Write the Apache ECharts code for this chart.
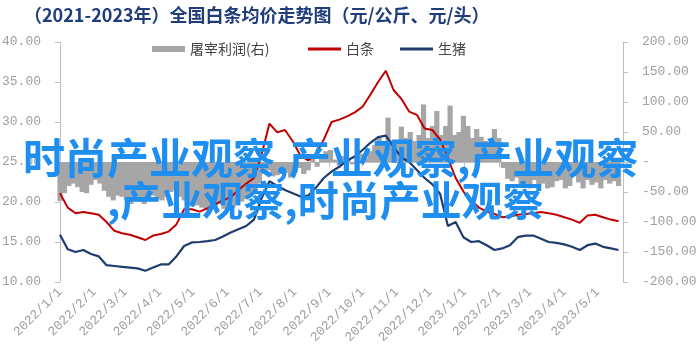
<!DOCTYPE html>
<html>
<head>
<meta charset="utf-8">
<script src="https://cdn.jsdelivr.net/npm/echarts@6/dist/echarts.min.js"></script>
<style>html,body{margin:0;padding:0;background:#fff}#c{width:700px;height:351px}</style>
</head>
<body>
<div id="c"></div>
<script>
// ---- data ----
var titleText = '（2021-2023年）全国白条均价走势图（元/公斤、元/头）';
var seriesNames = ['屠宰利润(右)', '白条', '生猪'];
var xTickLabels = ['2022/1/1','2022/2/1','2022/3/1','2022/4/1','2022/5/1','2022/6/1','2022/7/1','2022/8/1','2022/9/1','2022/10/1','2022/11/1','2022/12/1','2023/1/1','2023/2/1','2023/3/1','2023/4/1','2023/5/1'];
var leftTickLabels = ['10.00','15.00','20.00','25.00','30.00','35.00','40.00'];
var rightTickLabels = ['-200.00','-150.00','-100.00','-50.00','-','50.00','100.00','150.00','200.00'];
var overlayLines = ['时尚产业观察,产业观察,产业观察', ',产业观察,时尚产业观察'];

// line series: weekly observations starting 2022/1/1
var lineStart = '2022/1/1';
var lineStepDays = 7;
var baitiao = [21.1,19.3,18.6,18.75,18.6,18.4,17.5,16.4,16.1,15.9,15.6,15.25,15.8,16.0,16.3,17.2,19.1,19.1,18.8,19.2,19.7,20.2,20.6,21.5,22.3,23.0,26.0,29.8,28.7,29.0,27.6,25.8,25.2,26.0,27.8,30.0,30.3,30.7,31.2,31.9,33.4,35.0,36.4,34.0,32.9,31.3,30.9,29.2,29.0,27.8,25.5,23.0,21.3,20.2,19.3,18.8,18.5,18.1,18.2,18.4,18.5,18.6,18.75,18.6,18.4,18.1,17.8,17.4,18.3,18.4,18.1,17.8,17.6];
var shengzhu = [15.9,14.1,13.75,14.0,13.5,13.2,12.1,12.0,11.9,11.8,11.7,11.4,11.8,12.2,12.2,13.2,14.5,14.95,15.0,15.1,15.25,15.7,16.2,16.6,17.0,17.8,20.5,22.6,22.0,21.5,21.1,20.7,20.8,21.8,23.0,23.8,24.4,25.2,25.7,26.5,27.4,28.1,28.3,26.9,25.6,25.0,24.0,23.0,22.2,21.0,17.0,17.5,15.6,15.0,15.1,14.6,14.0,14.2,14.6,15.6,15.8,15.8,15.4,15.0,14.9,14.7,14.4,14.0,14.6,14.8,14.4,14.2,14.0];

// bar series: observations every 4 days starting 2022/1/1
var barStart = '2022/1/1';
var barStepDays = 4;
var profit = [-65,-52,-40,-36,-42,-50,-52,-38,-30,-36,-48,-58,-64,-56,-58,-64,-70,-60,-66,-70,-62,-56,-62,-64,-58,-50,-46,-58,-64,-70,-74,-72,-76,-80,-78,-74,-70,-78,-80,-76,-72,-66,-62,-58,-48,-36,-20,-14,-24,-22,-16,-18,-26,-18,-10,-20,-14,6,-8,12,18,20,4,-6,10,6,-4,8,14,6,18,28,40,30,74,35,30,59,40,50,35,45,96,40,60,85,45,60,94,45,50,77,60,40,55,42,35,30,55,40,-10,-28,-32,-26,-40,-36,-44,-30,-40,-36,-44,-42,-32,-30,-44,-40,-22,-34,-44,-30,-38,-34,-44,-30,-36,-32,-40];

// ---- helpers ----
var DAY = 86400000;
function parseDate(s){ var p = s.split('/'); return Date.UTC(+p[0], +p[1]-1, +p[2]); }
var t0 = parseDate('2022/1/1');
function dayIndex(s){ return Math.round((parseDate(s) - t0) / DAY); }
function pairs(start, step, vals){
  var d0 = dayIndex(start), out = [];
  for (var i = 0; i < vals.length; i++) out.push([d0 + i*step, vals[i]]);
  return out;
}
var xTicks = xTickLabels.map(dayIndex);
var xMin = 0, xMax = dayIndex('2023/5/24');

var labelFont = 'Liberation Mono';
var axisGray = '#bfbfbf';
var textGray = '#a0a0a0';

var chart = echarts.init(document.getElementById('c'), null, {renderer:'canvas'});
chart.setOption({
  animation: false,
  backgroundColor: '#fff',
  title: {
    text: titleText, left: 19, top: 1,
    textStyle: {fontSize: 18, fontWeight: 'bold', color: '#203d7a', fontFamily: 'Noto Sans CJK SC'}
  },
  legend: [{
    data: [seriesNames[0]], left: 147, top: 37, icon: 'rect', itemWidth: 33, itemHeight: 6, itemGap: 0,
    textStyle: {fontSize: 14, color: '#444', fontFamily: 'Noto Sans CJK SC'}
  },{
    data: [seriesNames[1], seriesNames[2]], left: 303, top: 37, icon: 'rect', itemWidth: 33, itemHeight: 3, itemGap: 26,
    textStyle: {fontSize: 14, color: '#444', fontFamily: 'Noto Sans CJK SC'}
  }],
  grid: {left: 60, right: 77, top: 42, bottom: 69, outerBoundsMode: 'none', containLabel: false},
  xAxis: {
    type: 'value', min: xMin, max: xMax,
    axisLine: {lineStyle: {color: axisGray}},
    axisTick: {customValues: xTicks, length: 5, lineStyle: {color: axisGray}},
    axisLabel: {
      customValues: xTicks, rotate: 45, margin: 8, color: textGray, fontSize: 13, fontFamily: labelFont,
      formatter: function(v){ var i = xTicks.indexOf(v); return i >= 0 ? xTickLabels[i] : ''; }
    },
    splitLine: {show: false}
  },
  yAxis: [{
    type: 'value', min: 10, max: 40, interval: 5, position: 'left',
    axisLine: {show: true, lineStyle: {color: axisGray}},
    axisTick: {show: true, length: 5, lineStyle: {color: axisGray}},
    axisLabel: {margin: 19, color: textGray, fontSize: 13, fontFamily: labelFont,
      formatter: function(v){ return leftTickLabels[Math.round((v-10)/5)]; }},
    splitLine: {show: false}
  },{
    type: 'value', min: -200, max: 200, interval: 50, position: 'right',
    axisLine: {show: true, lineStyle: {color: axisGray}},
    axisTick: {show: true, length: 5, lineStyle: {color: axisGray}},
    axisLabel: {margin: 19, color: textGray, fontSize: 13, fontFamily: labelFont,
      formatter: function(v){ return rightTickLabels[Math.round((v+200)/50)]; }},
    splitLine: {show: false}
  }],
  series: [{
    name: seriesNames[0], type: 'bar', yAxisIndex: 1, barWidth: 5.2,
    itemStyle: {color: '#a6a6a6'}, data: pairs(barStart, barStepDays, profit), z: 1
  },{
    name: seriesNames[1], type: 'line', yAxisIndex: 0, symbol: 'none', showSymbol: false,
    lineStyle: {color: '#c00000', width: 2}, itemStyle: {color: '#c00000'},
    data: pairs(lineStart, lineStepDays, baitiao), z: 3
  },{
    name: seriesNames[2], type: 'line', yAxisIndex: 0, symbol: 'none', showSymbol: false,
    lineStyle: {color: '#1f3c6e', width: 2.2}, itemStyle: {color: '#1f3c6e'},
    data: pairs(lineStart, lineStepDays, shengzhu), z: 3
  }],
  graphic: [{
    type: 'text', left: 23, top: 137, z: 100,
    style: {text: overlayLines[0], fill: '#1f8ef1', font: 'bold 42px "Noto Sans CJK SC"'}
  },{
    type: 'text', left: 107, top: 180, z: 100,
    style: {text: overlayLines[1], fill: '#1f8ef1', font: 'bold 41px "Noto Sans CJK SC"'}
  }]
});
</script>
</body>
</html>
